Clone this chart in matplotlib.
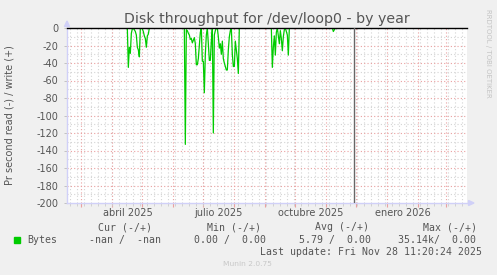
import matplotlib
matplotlib.use("Agg")
import matplotlib.pyplot as plt
import matplotlib.transforms as mtransforms
from matplotlib.patches import Polygon, Rectangle
import pandas as pd

plt.rcParams["axes.unicode_minus"] = False

W, H = 497, 275

# days with read activity, values are read rate (plotted as negative)
burst_starts = ["2025-04-16", "2025-06-12", "2025-09-07", "2025-11-07"]
read_apr = [0, 45, 22, 29, 6, 1, 0, 2, 4, 8, 22, 25, 33, 0, 0, 1, 4, 9, 12, 22, 9, 7, 0]
read_jun = [0, 133, 2, 3, 6, 8, 13, 12, 17, 14, 11, 18, 42, 42, 35, 20, 5, 0,
            38, 38, 74, 30, 8, 0, 18, 37, 37, 15, 0, 120, 8, 3, 0, 0, 10, 23,
            18, 30, 15, 35, 40, 44, 48, 48, 25, 10, 3, 0, 30, 44, 44, 15, 25,
            35, 52, 0]
read_sep = [0, 45, 22, 9, 31, 5, 0, 9, 18, 3, 12, 26, 10, 2, 0, 4, 8, 31, 0]
read_nov = [0, 4, 2, 0]
bursts = [read_apr, read_jun, read_sep, read_nov]

y_ticks = list(range(-200, 1, 20))
x_labels = ["abril 2025", "julio 2025", "octubre 2025", "enero 2026"]
x_label_dates = ["2025-04-16 12:00", "2025-07-16 12:00", "2025-10-16 12:00", "2026-01-16 12:00"]

legend_heads = ["Cur (-/+)", "Min (-/+)", "Avg (-/+)", "Max (-/+)"]
legend_vals = ["-nan /  -nan", "0.00 /  0.00", "5.79 /  0.00", "35.14k/  0.00"]
last_update = "Last update: Fri Nov 28 11:20:24 2025"
now = pd.Timestamp("2025-11-28 11:20")

t_start = pd.Timestamp("2025-02-14 16:00")
t_end = t_start + pd.Timedelta(days=400)

TEXT = "#555555"
GREEN = "#00cc00"
MAJOR = "#eaa0a0"
MINOR = "#d4d4d4"
AXIS = "#d0d0f8"
DOT = (0, (1, 2))


def px(x):
    return x / W


def py(y):
    return 1 - y / H


fig = plt.figure(figsize=(W / 100, H / 100), dpi=100, facecolor="#f0f0f0")
ax = fig.add_axes([px(67), py(203), 400 / W, 175 / H], facecolor="white")

# grid
for v in range(-190, 0, 20):
    ax.axhline(v, color=MINOR, lw=0.8, ls=DOT, zorder=1)
for v in range(-180, 0, 20):
    ax.axhline(v, color=MAJOR, lw=0.8, ls=DOT, zorder=2)
weeks = pd.date_range(t_start, t_end, freq="W-MON")
months = pd.date_range("2025-03-01", t_end, freq="MS")
for d in weeks:
    ax.axvline(d, color=MINOR, lw=0.8, ls=DOT, zorder=1)
for d in months:
    ax.axvline(d, color=MAJOR, lw=0.8, ls=DOT, zorder=2)

# data
for start, vals in zip(burst_starts, bursts):
    days = pd.date_range(start, periods=len(vals), freq="D")
    ax.plot(days, [-v for v in vals], color=GREEN, lw=0.9, zorder=4)

ax.axhline(0, color="black", lw=1.0, zorder=5, clip_on=False)
ax.axvline(now, color="#666666", lw=1.0, zorder=5)

ax.set_xlim(t_start, t_end)
ax.set_ylim(-200, 0)

ax.set_yticks(y_ticks)
ax.set_yticklabels([str(v) for v in y_ticks])
ax.tick_params(axis="y", length=2, width=0.6, color="#bbbbbb", pad=4,
               labelsize=7, labelcolor=TEXT)
ax.set_xticks(months)
ax.set_xticks(weeks, minor=True)
ax.set_xticklabels([])
ax.tick_params(axis="x", which="major", length=3, width=0.8, color=MAJOR)
ax.tick_params(axis="x", which="minor", length=2, width=0.6, color="#cccccc")

for s in ["top", "right"]:
    ax.spines[s].set_visible(False)
for s in ["left", "bottom"]:
    ax.spines[s].set_color(AXIS)
    ax.spines[s].set_linewidth(1.0)

trans = mtransforms.blended_transform_factory(ax.transData, fig.transFigure)
for lab, d in zip(x_labels, x_label_dates):
    ax.text(pd.Timestamp(d), py(213), lab, transform=trans, ha="center",
            va="center", fontsize=7, color=TEXT)

# axis arrows
fig.add_artist(Polygon([(px(67), py(21)), (px(64.5), py(26.5)), (px(69.5), py(26.5))],
                       closed=True, color=AXIS, transform=fig.transFigure))
fig.add_artist(Polygon([(px(474), py(203)), (px(468.5), py(200.5)), (px(468.5), py(205.5))],
                       closed=True, color=AXIS, transform=fig.transFigure))

fig.text(px(267), py(19), "Disk throughput for /dev/loop0 - by year",
         ha="center", va="center", fontsize=10.2, color=TEXT)
fig.text(px(10), py(115.5), "Pr second read (-) / write (+)", rotation=90,
         ha="center", va="center", fontsize=7, color=TEXT)
fig.text(px(488), py(53), "RRDTOOL / TOBI OETIKER", rotation=270,
         ha="center", va="center", fontsize=5.0, color="#c4c4c4")

# legend
mono = dict(family="DejaVu Sans Mono", fontsize=7.1, color=TEXT, va="center")
for x, s in zip([98, 207, 315, 423], legend_heads):
    fig.text(px(x), py(227), s, ha="left", **mono)
fig.add_artist(Rectangle((px(14), py(243)), 6 / W, 6 / H, color=GREEN,
                         transform=fig.transFigure))
fig.text(px(27), py(240), "Bytes", ha="left", **mono)
for x, s in zip([89, 194, 299, 398], legend_vals):
    fig.text(px(x), py(240), s, ha="left", **mono)
fig.text(px(482), py(252), last_update, ha="right", **mono)
fig.text(px(247.5), py(264), "Munin 2.0.75", ha="center", va="center",
         fontsize=5.4, color="#c8c8c8")

fig.savefig("out.png", dpi=100, facecolor=fig.get_facecolor())
